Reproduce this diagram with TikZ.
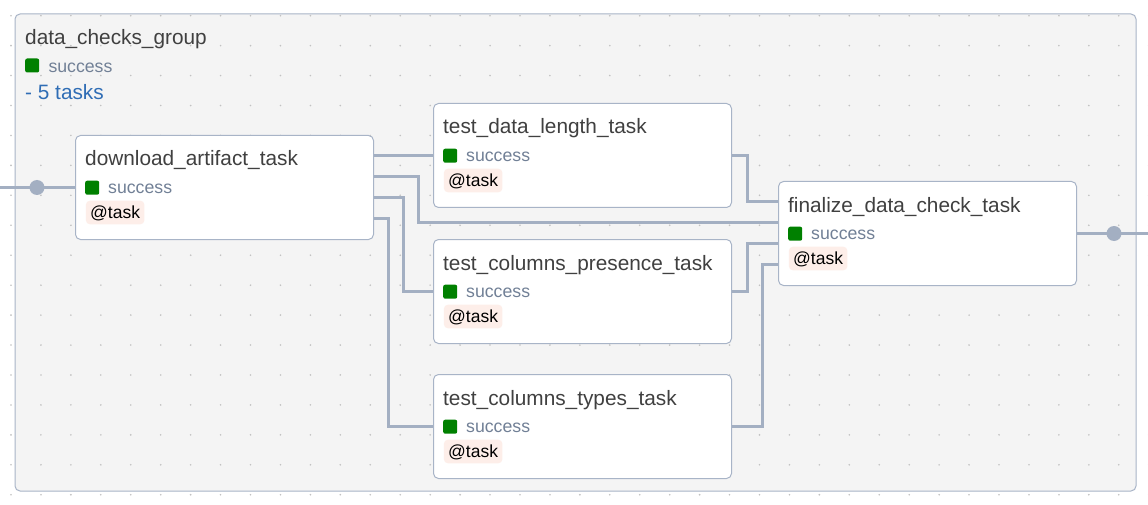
\documentclass[tikz,border=0pt]{standalone}
\usepackage{fontspec}
\setmainfont{Liberation Sans}
\usetikzlibrary{calc}
\definecolor{edgec}{HTML}{A3AFC2}
\definecolor{borderc}{HTML}{A8B4C7}
\definecolor{groupfill}{HTML}{F4F4F4}
\definecolor{dotc}{HTML}{C2C2C2}
\definecolor{titlec}{HTML}{404040}
\definecolor{statc}{HTML}{718096}
\definecolor{bluec}{HTML}{2F6DB5}
\definecolor{okgreen}{HTML}{008000}
\definecolor{badgefill}{HTML}{FDEEE9}
\tikzset{
  groupbox/.style={draw=borderc, line width=1pt, fill=groupfill, rounded corners=5pt},
  taskbox/.style={draw=borderc, line width=1pt, fill=white, rounded corners=5pt,
    minimum width=298pt, minimum height=104pt, inner sep=0pt},
  tasktitle/.style={inner sep=0pt, text=titlec, font=\fontsize{20.8}{24}\selectfont},
  stat/.style={inner sep=0pt, text=statc, font=\fontsize{17.7}{21}\selectfont},
  sq/.style={fill=okgreen, rounded corners=2pt, minimum size=14pt, inner sep=0pt},
  badge/.style={fill=badgefill, rounded corners=4pt, inner xsep=4.3pt, inner ysep=0pt,
    text height=17.6pt, text depth=6pt, text=black, font=\fontsize{17.5}{21}\selectfont},
  edge/.style={draw=edgec, line width=3pt},
  port/.style={circle, fill=edgec, minimum size=15pt, inner sep=0pt},
}
\newcommand\mytask[4]{%
  \node[taskbox, anchor=north west] (#1) at (#2,#3) {};
  \node[tasktitle, anchor=base west] (#1-title) at ($(#1.north west)+(10,31)$) {#4};
  \node[sq, anchor=north west] (#1-sq) at ($(#1.north west)+(10,45.5)$) {};
  \node[stat, anchor=base west] (#1-st) at ($(#1.north west)+(33,58.3)$) {success};
  \node[badge, anchor=base west] (#1-badge) at ($(#1.north west)+(10.7,83.3)$) {@task};
}
\begin{document}
\begin{tikzpicture}[x=1pt,y=-1pt]
\useasboundingbox (0,0) rectangle (1148,505);
\fill[white] (0,0) rectangle (1148,505);
\draw[groupbox] (15,14) rectangle (1136,491);
\foreach \i in {0,...,38}{
  \foreach \j in {0,...,16}{
    \fill[dotc] ({11+29.94*\i},{15.7+29.94*\j}) circle[radius=0.9pt];
  }
}
% group header
\node[tasktitle, anchor=base west] (gtitle) at (25,45) {data\_checks\_group};
\node[sq, anchor=north west] (gsq) at (25,58.3) {};
\node[stat, anchor=base west] (gstat) at (48.3,72.7) {success};
\node[tasktitle, text=bluec, anchor=base west] (gcount) at (25,100) {- 5 tasks};
% tasks
\mytask{dl}{75}{135}{download\_artifact\_task}
\mytask{tdl}{433}{103}{test\_data\_length\_task}
\mytask{tcp}{433}{239}{test\_columns\_presence\_task}
\mytask{tct}{433}{374}{test\_columns\_types\_task}
\mytask{fin}{778}{181}{finalize\_data\_check\_task}
% anchor points
\coordinate (dlo2) at ([yshift=-41.6pt]dl.north east);
\coordinate (dlo3) at ([yshift=-62.4pt]dl.north east);
\coordinate (dlo4) at ([yshift=-83.2pt]dl.north east);
\coordinate (fini1) at ([yshift=-20.8pt]fin.north west);
\coordinate (fini2) at ([yshift=-41.6pt]fin.north west);
\coordinate (fini3) at ([yshift=-62.4pt]fin.north west);
\coordinate (fini4) at ([yshift=-83.2pt]fin.north west);
\coordinate (inend) at (dl.west -| 0,0);
\coordinate (outend) at (fin.east -| 1148,0);
% edges
\draw[edge] (inend) -- (dl.west);
\draw[edge] (tdl.west -| dl.east) -- (tdl.west);
\draw[edge] (dlo2) -- (418,0 |- dlo2) -- (418,0 |- fini2) -- (fini2);
\draw[edge] (dlo3) -- (403,0 |- dlo3) -- (403,0 |- tcp.west) -- (tcp.west);
\draw[edge] (dlo4) -- (388,0 |- dlo4) -- (388,0 |- tct.west) -- (tct.west);
\draw[edge] (tdl.east) -- (747,0 |- tdl.east) -- (747,0 |- fini1) -- (fini1);
\draw[edge] (tcp.east) -- (747,0 |- tcp.east) -- (747,0 |- fini3) -- (fini3);
\draw[edge] (tct.east) -- (762,0 |- tct.east) -- (762,0 |- fini4) -- (fini4);
\draw[edge] (fin.east) -- (outend);
\node[port] (pin) at (dl.west -| 37,0) {};
\node[port] (pout) at (fin.east -| 1114,0) {};
\end{tikzpicture}
\end{document}
